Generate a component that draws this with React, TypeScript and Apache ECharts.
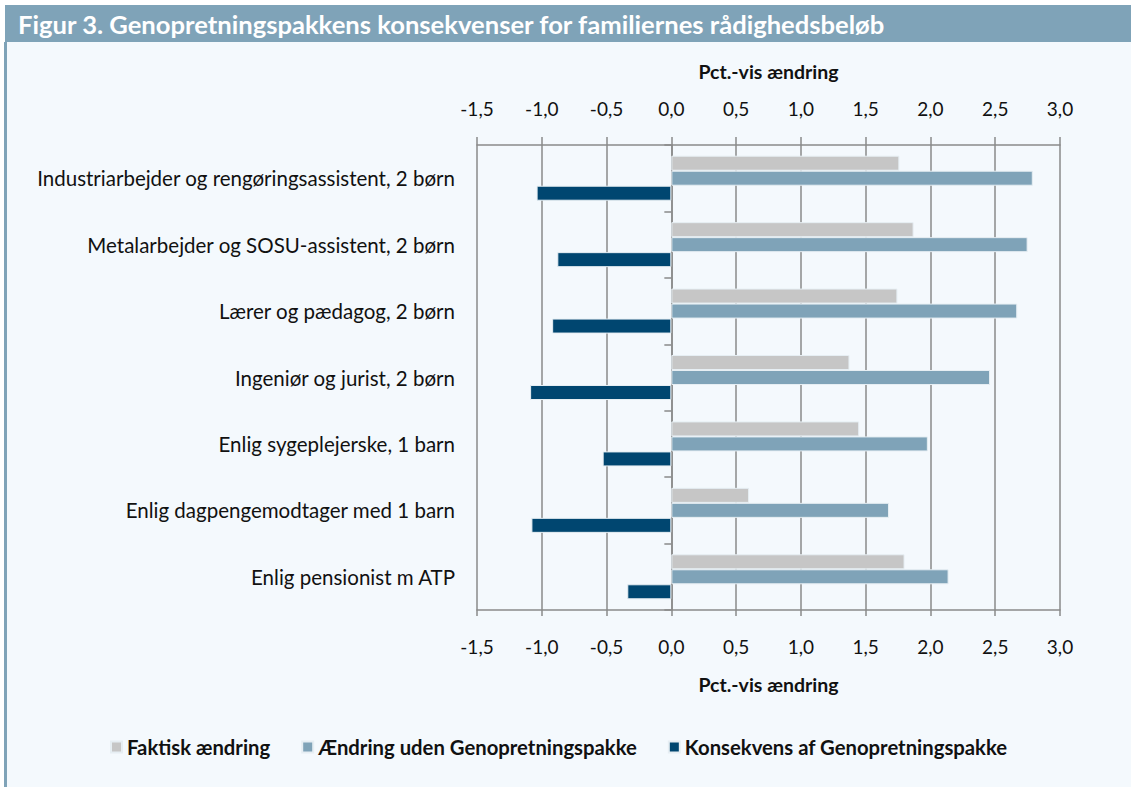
import React, { useEffect, useRef } from "react";
import * as echarts from "echarts";

const categories = [
  "Industriarbejder og rengøringsassistent, 2 børn",
  "Metalarbejder og SOSU-assistent, 2 børn",
  "Lærer og pædagog, 2 børn",
  "Ingeniør og jurist, 2 børn",
  "Enlig sygeplejerske, 1 barn",
  "Enlig dagpengemodtager med 1 barn",
  "Enlig pensionist m ATP",
];
const faktisk = [1.76, 1.87, 1.745, 1.375, 1.45, 0.6, 1.8];
const udenPakke = [2.79, 2.75, 2.67, 2.46, 1.98, 1.68, 2.14];
const konsekvens = [-1.04, -0.88, -0.92, -1.09, -0.53, -1.08, -0.34];
const seriesNames = [
  "Faktisk ændring",
  "Ændring uden Genopretningspakke",
  "Konsekvens af Genopretningspakke",
];
const titleText = "Figur 3. Genopretningspakkens konsekvenser for familiernes rådighedsbeløb";
const axisName = "Pct.-vis ændring";

const FONT = "Lato, 'Open Sans', sans-serif";
const GRID = "#8a8a8a";
const colors = ["#c6c6c6", "#7fa3b8", "#004670"];

export default function App() {
  const ref = useRef<HTMLDivElement>(null);
  useEffect(() => {
    if (!ref.current) return;
    const chart = echarts.init(ref.current, null, { renderer: "svg" });
    const fmt = (v: number) => v.toFixed(1).replace(".", ",");
    const xBase = (pos: "top" | "bottom", gap: number, tickLen: number, split: boolean) => ({
      type: "value",
      position: pos,
      min: -1.5,
      max: 3.0,
      interval: 0.5,
      name: axisName,
      nameLocation: "middle",
      nameGap: gap,
      nameTextStyle: { fontFamily: FONT, fontSize: 19.5, fontWeight: "bold", color: "#111" },
      axisLine: { show: true, onZero: false, lineStyle: { color: GRID, width: 1.5 } },
      axisTick: { show: true, length: tickLen, lineStyle: { color: GRID, width: 1.5 } },
      axisLabel: { formatter: fmt, fontFamily: FONT, fontSize: 19, color: "#111", margin: 27 },
      splitLine: { show: split, lineStyle: { color: GRID, width: 1.5 } },
    });
    const series = [faktisk, udenPakke, konsekvens].map((d, i) => ({
      name: seriesNames[i],
      type: "bar",
      data: d,
      xAxisIndex: 0,
      yAxisIndex: 0,
      barWidth: 15,
      barGap: "0%",
      itemStyle: { color: colors[i], borderColor: "#e6eef3", borderWidth: 1 },
    }));
    chart.setOption({
      animation: false,
      backgroundColor: "#ffffff",
      graphic: [
        { type: "rect", shape: { x: 5, y: 5, width: 1126, height: 782 }, style: { fill: "#f4f9fd" }, z: -10 },
        { type: "rect", shape: { x: 5, y: 5, width: 1126, height: 37 }, style: { fill: "#7fa3b8" }, z: -9 },
        { type: "rect", shape: { x: 4, y: 42, width: 3, height: 745 }, style: { fill: "#7fa3b8" }, z: -9 },
        {
          type: "text",
          x: 18,
          y: 24,
          style: {
            text: titleText,
            fill: "#ffffff",
            fontFamily: FONT,
            fontSize: 25.6,
            fontWeight: "bold",
            verticalAlign: "middle",
          },
          z: 10,
        },
      ],
      grid: { left: 477, right: 71, top: 145, bottom: 177 },
      xAxis: [xBase("bottom", 64, 6, true), xBase("top", 64, 8, false)],
      yAxis: [
        {
          type: "category",
          data: categories,
          inverse: true,
          position: "left",
          axisLine: { show: false, onZero: false },
          axisTick: { show: false },
          axisLabel: { fontFamily: FONT, fontSize: 20.5, color: "#111", margin: 22 },
        },
        {
          type: "category",
          data: categories,
          inverse: true,
          position: "left",
          axisLine: { show: true, onZero: true, lineStyle: { color: GRID, width: 1.5 } },
          axisTick: { show: true, length: 7, lineStyle: { color: GRID, width: 1.5 } },
          axisLabel: { show: false },
        },
      ],
      legend: {
        left: 105,
        top: 732,
        itemWidth: 11,
        itemHeight: 11,
        itemGap: 31,
        icon: "rect",
        data: seriesNames,
        textStyle: { fontFamily: FONT, fontSize: 20.3, fontWeight: "bold", color: "#111" },
      },
      series,
    });
    return () => chart.dispose();
  }, []);
  return (
    <div
      ref={ref}
      style={{ position: "fixed", left: 0, top: 0, width: 1131, height: 787 }}
    />
  );
}
